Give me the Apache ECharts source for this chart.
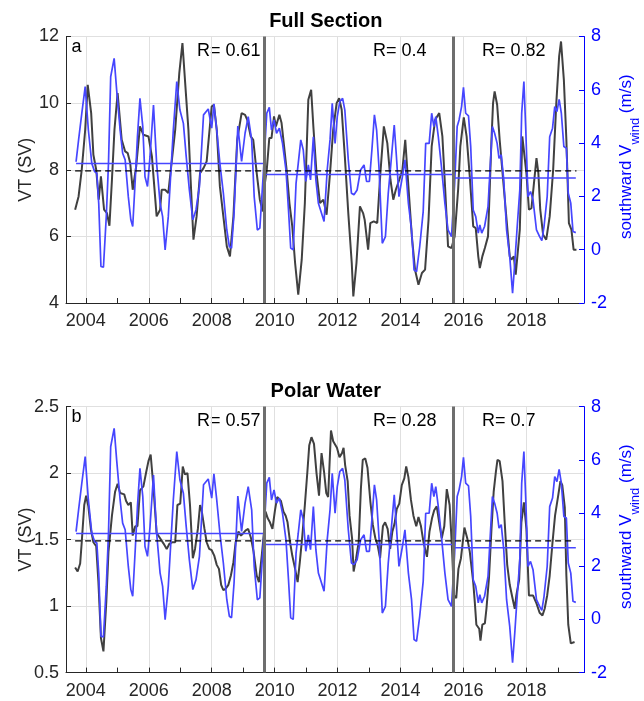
<!DOCTYPE html>
<html>
<head>
<meta charset="utf-8">
<script src="https://cdn.jsdelivr.net/npm/echarts@6/dist/echarts.min.js"></script>
<style>
  html, body { margin: 0; padding: 0; background: #fff; }
  #chart { width: 644px; height: 701px; }
</style>
</head>
<body>
<div id="chart"></div>
<script>
// time axis
const xMin = 2003.37, xMax = 2019.83;
const yearTicks = [2004, 2005, 2006, 2007, 2008, 2009, 2010, 2011, 2012, 2013, 2014, 2015, 2016, 2017, 2018, 2019];
const yearLabels = [2004, 2006, 2008, 2010, 2012, 2014, 2016, 2018];

// period boundaries (vertical lines) and correlation per period
const breakYears = [2009.66, 2015.67];
const rFull = ["0.61", "0.4", "0.82"];
const rPolar = ["0.57", "0.28", "0.7"];

// means: dashed black = VT mean, blue = wind mean per period
const vtMeans = [7.965, 1.49];
const windMeans = [3.23, 2.82, 2.69];

// Full Section VT (Sv)
const vtFull = [
  [2003.66,6.80],[2003.77,7.20],[2003.87,8.00],[2003.98,9.20],[2004.06,10.55],[2004.17,9.70],[2004.24,8.45],[2004.33,8.00],
  [2004.41,7.10],[2004.48,7.80],[2004.58,6.80],[2004.67,6.70],[2004.75,6.32],[2004.83,7.70],[2004.91,9.20],[2005.01,10.30],
  [2005.14,8.90],[2005.25,8.55],[2005.33,8.50],[2005.41,8.20],[2005.49,7.40],[2005.60,8.10],[2005.72,9.30],[2005.83,9.05],
  [2005.99,9.00],[2006.10,8.40],[2006.25,6.60],[2006.36,6.80],[2006.41,7.40],[2006.52,7.40],[2006.62,7.30],[2006.84,9.20],
  [2006.97,10.90],[2007.07,11.80],[2007.15,10.70],[2007.26,9.20],[2007.33,7.70],[2007.42,5.90],[2007.52,6.60],[2007.63,7.90],
  [2007.74,8.05],[2007.84,8.25],[2008.00,9.90],[2008.07,9.95],[2008.16,9.20],[2008.26,7.50],[2008.37,6.60],[2008.48,5.70],
  [2008.58,5.40],[2008.69,6.60],[2008.81,8.90],[2008.95,9.70],[2009.06,9.65],[2009.13,9.50],[2009.24,9.00],[2009.32,8.90],
  [2009.43,7.90],[2009.53,7.10],[2009.62,6.75],[2009.66,7.40],[2009.75,8.00],[2009.83,8.95],[2009.90,8.95],[2009.98,9.60],
  [2010.04,9.30],[2010.15,9.65],[2010.22,9.40],[2010.30,8.70],[2010.38,8.00],[2010.47,7.00],[2010.56,6.30],[2010.65,5.20],
  [2010.75,4.25],[2010.86,5.30],[2010.96,7.00],[2011.07,10.10],[2011.16,10.40],[2011.23,9.30],[2011.33,7.90],[2011.44,7.00],
  [2011.55,7.10],[2011.65,6.65],[2011.76,7.90],[2011.86,9.20],[2011.97,10.00],[2012.05,10.15],[2012.13,9.80],[2012.23,8.40],
  [2012.34,6.70],[2012.45,5.20],[2012.50,4.20],[2012.60,5.20],[2012.71,6.90],[2012.81,6.70],[2012.86,6.50],[2012.97,5.60],
  [2013.04,6.40],[2013.15,6.45],[2013.26,6.40],[2013.36,7.90],[2013.47,9.30],[2013.58,8.80],[2013.68,7.70],[2013.77,7.10],
  [2013.85,7.40],[2013.96,7.70],[2014.06,8.00],[2014.15,8.90],[2014.25,7.50],[2014.36,6.00],[2014.46,5.00],[2014.57,4.55],
  [2014.68,4.90],[2014.78,5.00],[2014.89,6.50],[2014.99,8.70],[2015.10,9.50],[2015.23,9.70],[2015.33,9.00],[2015.42,7.40],
  [2015.51,5.70],[2015.62,5.65],[2015.72,6.00],[2015.83,7.40],[2015.90,8.70],[2016.01,9.57],[2016.10,9.00],[2016.20,7.80],
  [2016.31,6.30],[2016.39,6.25],[2016.47,5.40],[2016.52,5.05],[2016.60,5.40],[2016.68,5.65],[2016.78,6.00],[2016.89,8.90],
  [2016.94,10.00],[2016.99,10.35],[2017.07,9.95],[2017.15,8.90],[2017.26,7.70],[2017.37,6.50],[2017.47,5.40],[2017.52,5.30],
  [2017.60,5.40],[2017.66,4.85],[2017.79,6.20],[2017.87,9.00],[2017.93,9.05],[2018.00,7.90],[2018.08,6.80],[2018.16,6.85],
  [2018.23,7.50],[2018.32,8.35],[2018.38,7.90],[2018.44,6.80],[2018.53,6.05],[2018.63,5.90],[2018.74,6.60],[2018.85,8.00],
  [2018.95,10.00],[2019.04,11.40],[2019.10,11.85],[2019.19,10.70],[2019.27,8.90],[2019.35,6.40],[2019.43,6.20],[2019.50,5.60],
  [2019.59,5.60]
];

// Polar Water VT (Sv)
const vtPolar = [
  [2003.66,1.29],[2003.74,1.26],[2003.82,1.32],[2003.87,1.48],[2003.95,1.76],[2004.01,1.83],[2004.08,1.75],[2004.16,1.58],
  [2004.24,1.48],[2004.33,1.45],[2004.40,1.18],[2004.48,0.76],[2004.56,0.66],[2004.65,1.03],[2004.72,1.41],[2004.83,1.68],
  [2004.93,1.86],[2005.01,1.92],[2005.09,1.85],[2005.14,1.84],[2005.22,1.84],[2005.28,1.79],[2005.35,1.76],[2005.43,1.78],
  [2005.49,1.53],[2005.57,1.60],[2005.64,1.60],[2005.72,1.87],[2005.83,1.90],[2005.92,2.01],[2005.99,2.09],[2006.06,2.14],
  [2006.15,1.89],[2006.25,1.55],[2006.36,1.51],[2006.47,1.47],[2006.57,1.43],[2006.66,1.47],[2006.74,1.48],[2006.84,1.48],
  [2006.91,1.76],[2007.00,1.77],[2007.08,2.05],[2007.15,1.99],[2007.23,2.00],[2007.31,1.76],[2007.40,1.36],[2007.47,1.43],
  [2007.56,1.58],[2007.63,1.76],[2007.68,1.72],[2007.77,1.58],[2007.84,1.48],[2007.92,1.43],[2008.00,1.42],[2008.08,1.38],
  [2008.16,1.31],[2008.23,1.28],[2008.30,1.16],[2008.37,1.12],[2008.44,1.13],[2008.53,1.16],[2008.61,1.23],[2008.69,1.33],
  [2008.76,1.48],[2008.85,1.56],[2008.93,1.53],[2009.01,1.55],[2009.08,1.57],[2009.16,1.58],[2009.25,1.51],[2009.33,1.41],
  [2009.43,1.23],[2009.50,1.18],[2009.59,1.38],[2009.66,1.55],[2009.71,1.71],[2009.78,1.66],[2009.85,1.63],[2009.93,1.58],
  [2010.01,1.72],[2010.08,1.82],[2010.14,1.82],[2010.20,1.79],[2010.28,1.71],[2010.35,1.68],[2010.41,1.63],[2010.49,1.48],
  [2010.56,1.38],[2010.65,1.28],[2010.73,1.18],[2010.80,1.33],[2010.88,1.53],[2010.96,1.76],[2011.04,2.01],[2011.10,2.21],
  [2011.17,2.27],[2011.25,2.22],[2011.33,2.00],[2011.41,1.83],[2011.49,2.15],[2011.57,2.01],[2011.64,1.85],[2011.70,1.82],
  [2011.79,2.32],[2011.86,2.24],[2011.98,2.19],[2012.06,2.12],[2012.14,2.15],[2012.19,2.19],[2012.24,2.06],[2012.32,1.94],
  [2012.38,1.68],[2012.46,1.51],[2012.51,1.26],[2012.59,1.36],[2012.67,1.48],[2012.74,1.88],[2012.80,2.10],[2012.88,2.11],
  [2012.95,2.04],[2013.04,1.79],[2013.12,1.61],[2013.20,1.51],[2013.27,1.46],[2013.35,1.36],[2013.44,1.60],[2013.51,1.63],
  [2013.59,1.58],[2013.67,1.43],[2013.74,1.56],[2013.81,1.62],[2013.88,1.73],[2013.96,1.77],[2014.04,1.91],[2014.12,1.96],
  [2014.18,2.05],[2014.25,1.97],[2014.33,1.80],[2014.41,1.68],[2014.50,1.60],[2014.57,1.67],[2014.65,1.60],[2014.73,1.48],
  [2014.84,1.37],[2014.92,1.56],[2015.00,1.66],[2015.07,1.72],[2015.15,1.75],[2015.24,1.61],[2015.31,1.51],[2015.39,1.60],
  [2015.47,1.88],[2015.56,1.76],[2015.63,1.46],[2015.70,1.08],[2015.77,1.06],[2015.84,1.28],[2015.92,1.36],[2016.03,1.59],
  [2016.12,1.51],[2016.20,1.41],[2016.31,1.18],[2016.36,1.03],[2016.41,0.86],[2016.50,0.83],[2016.54,0.74],[2016.60,0.86],
  [2016.68,0.87],[2016.73,0.98],[2016.81,1.21],[2016.89,1.58],[2016.96,1.86],[2017.03,2.01],[2017.08,2.10],[2017.15,2.09],
  [2017.24,1.94],[2017.31,1.63],[2017.39,1.31],[2017.47,1.16],[2017.54,1.08],[2017.63,0.98],[2017.68,1.08],[2017.77,1.20],
  [2017.84,1.63],[2017.92,1.78],[2018.00,1.58],[2018.08,1.08],[2018.21,1.08],[2018.32,1.02],[2018.42,0.95],[2018.51,0.93],
  [2018.58,0.98],[2018.66,1.08],[2018.74,1.23],[2018.83,1.48],[2018.91,1.68],[2019.01,1.83],[2019.08,1.94],[2019.14,1.91],
  [2019.22,1.74],[2019.27,1.23],[2019.33,0.86],[2019.41,0.72],[2019.53,0.73]
];

// southward wind (m/s), same in both panels
const windSouth = [
  [2003.69,3.30],[2003.77,4.12],[2003.87,5.10],[2003.98,6.12],[2004.08,4.50],[2004.19,3.24],[2004.28,2.93],[2004.35,2.87],
  [2004.41,1.74],[2004.48,-0.63],[2004.56,-0.66],[2004.65,1.24],[2004.72,3.24],[2004.79,6.49],[2004.90,7.18],[2004.98,5.99],
  [2005.09,4.49],[2005.17,3.62],[2005.25,3.37],[2005.35,1.99],[2005.43,1.12],[2005.49,0.87],[2005.57,2.62],[2005.64,4.24],
  [2005.72,5.68],[2005.81,4.62],[2005.88,2.74],[2005.96,2.37],[2006.04,3.49],[2006.15,5.43],[2006.25,3.24],[2006.36,1.74],
  [2006.44,1.24],[2006.52,-0.01],[2006.62,1.24],[2006.78,4.49],[2006.89,6.31],[2006.99,5.24],[2007.10,4.74],[2007.19,3.49],
  [2007.29,2.24],[2007.40,1.12],[2007.50,1.49],[2007.61,2.37],[2007.74,5.06],[2007.89,5.28],[2008.00,4.56],[2008.07,5.47],
  [2008.16,4.49],[2008.26,3.24],[2008.37,2.12],[2008.48,0.74],[2008.56,0.12],[2008.63,0.06],[2008.71,1.37],[2008.83,4.64],
  [2008.95,3.31],[2009.06,4.37],[2009.16,4.99],[2009.27,4.12],[2009.35,1.99],[2009.45,0.74],[2009.53,0.81],[2009.64,2.87],
  [2009.75,5.12],[2009.83,5.34],[2009.90,4.49],[2009.98,4.87],[2010.06,4.37],[2010.15,4.56],[2010.25,3.99],[2010.36,2.99],
  [2010.44,1.49],[2010.51,0.06],[2010.59,0.00],[2010.68,2.49],[2010.75,3.24],[2010.83,4.12],[2010.91,3.74],[2010.99,2.56],
  [2011.07,3.18],[2011.14,2.62],[2011.23,4.24],[2011.31,2.62],[2011.39,1.74],[2011.49,1.37],[2011.57,1.06],[2011.67,2.99],
  [2011.76,4.12],[2011.83,5.49],[2011.92,3.99],[2011.99,4.99],[2012.07,5.56],[2012.16,5.68],[2012.23,5.24],[2012.34,3.37],
  [2012.44,2.12],[2012.52,2.06],[2012.62,2.24],[2012.73,2.99],[2012.84,3.18],[2012.92,2.56],[2013.01,2.56],[2013.09,3.74],
  [2013.17,5.06],[2013.24,4.49],[2013.32,2.99],[2013.42,0.24],[2013.52,0.49],[2013.61,2.12],[2013.69,3.18],[2013.80,4.68],
  [2013.87,3.49],[2013.95,1.99],[2014.06,2.74],[2014.14,3.37],[2014.25,1.74],[2014.35,0.74],[2014.43,-0.76],[2014.51,-0.82],
  [2014.61,0.12],[2014.72,1.43],[2014.80,3.99],[2014.91,3.99],[2014.99,5.12],[2015.06,4.62],[2015.12,4.99],[2015.20,4.24],
  [2015.30,3.12],[2015.41,1.74],[2015.51,0.74],[2015.62,0.49],[2015.72,2.49],[2015.80,4.62],[2015.86,4.87],[2015.94,5.37],
  [2016.00,6.09],[2016.07,5.12],[2016.16,5.02],[2016.23,3.87],[2016.31,1.49],[2016.39,1.24],[2016.47,0.62],[2016.52,0.93],
  [2016.58,0.62],[2016.67,0.87],[2016.78,1.62],[2016.92,4.62],[2016.99,4.37],[2017.07,3.99],[2017.13,3.43],[2017.20,3.56],
  [2017.28,2.62],[2017.37,0.74],[2017.47,-0.26],[2017.56,-1.63],[2017.63,-0.51],[2017.70,0.74],[2017.79,2.24],[2017.85,5.12],
  [2017.92,6.31],[2017.98,4.49],[2018.05,1.99],[2018.13,2.18],[2018.21,1.87],[2018.32,0.74],[2018.42,0.49],[2018.49,0.34],
  [2018.56,0.87],[2018.66,1.99],[2018.74,4.24],[2018.83,4.56],[2018.90,5.37],[2018.97,5.18],[2019.04,5.64],[2019.11,5.12],
  [2019.19,3.87],[2019.27,3.81],[2019.33,2.12],[2019.41,1.74],[2019.48,0.68],[2019.57,0.64]
];

const FONT = '"Liberation Sans", Arial, Helvetica, sans-serif';
const INK = "#262626";
const AXIS_BLUE = "#0000ff";
const WIND_BLUE = "#4646ff";
const VT_GRAY = "#404040";
const GRID_GRAY = "#e0e0e0";

const panels = [
  { title: "Full Section", letter: "a", vt: vtFull, yMin: 4, yMax: 12, yStep: 2, r: rFull, top: 36.5, height: 266.5 },
  { title: "Polar Water", letter: "b", vt: vtPolar, yMin: 0.5, yMax: 2.5, yStep: 0.5, r: rPolar, top: 406.6, height: 266 },
];
const rLeft = [197, 373, 482];

const grid = [], xAxis = [], yAxis = [], series = [], graphic = [];

panels.forEach((p, g) => {
  grid.push({ left: 66, right: 60, top: p.top, height: p.height, outerBoundsMode: "none", containLabel: false });

  // visible time axis: ticks every year, labels every 2 years
  xAxis.push({
    type: "value", gridIndex: g, min: xMin, max: xMax, position: "bottom",
    axisLine: { show: true, onZero: false, lineStyle: { color: INK, width: 1 } },
    axisTick: { show: true, inside: true, length: 5, customValues: yearTicks, lineStyle: { color: INK } },
    axisLabel: { customValues: yearLabels, color: INK, fontSize: 18, fontFamily: FONT, margin: 9, formatter: v => String(v) },
    splitLine: { show: false },
  });
  // hidden axis only for the vertical grid lines at even years
  xAxis.push({
    type: "value", gridIndex: g, min: xMin, max: xMax, position: "bottom",
    axisLine: { show: false },
    axisTick: { show: false, customValues: yearLabels },
    axisLabel: { show: false },
    splitLine: { show: true, lineStyle: { color: GRID_GRAY, width: 1 } },
  });

  yAxis.push({
    type: "value", gridIndex: g, position: "left", min: p.yMin, max: p.yMax, interval: p.yStep,
    name: "VT (SV)", nameLocation: "middle", nameRotate: 90, nameGap: 31, nameMoveOverlap: false,
    nameTextStyle: { color: INK, fontSize: 18, fontFamily: FONT },
    axisLine: { show: true, onZero: false, lineStyle: { color: INK, width: 1 } },
    axisTick: { show: true, inside: true, length: 5, lineStyle: { color: INK } },
    axisLabel: { color: INK, fontSize: 18, fontFamily: FONT, margin: 7 },
    splitLine: { show: true, lineStyle: { color: GRID_GRAY, width: 1 } },
  });
  yAxis.push({
    type: "value", gridIndex: g, position: "right", min: -2, max: 8, interval: 2,
    name: "{a|southward V}{s|wind}{a| (m/s)}", nameLocation: "middle", nameRotate: 90, nameGap: 34, nameMoveOverlap: false,
    nameTextStyle: {
      color: AXIS_BLUE, fontFamily: FONT, padding: [0, 0, 0, 26],
      rich: {
        a: { fontSize: 17, color: AXIS_BLUE, fontFamily: FONT, lineHeight: 18, verticalAlign: "top" },
        s: { fontSize: 13, color: AXIS_BLUE, fontFamily: FONT, lineHeight: 24, verticalAlign: "bottom" },
      },
    },
    axisLine: { show: true, onZero: false, lineStyle: { color: AXIS_BLUE, width: 1 } },
    axisTick: { show: true, inside: true, length: 5, lineStyle: { color: AXIS_BLUE } },
    axisLabel: { color: AXIS_BLUE, fontSize: 18, fontFamily: FONT, margin: 7 },
    splitLine: { show: false },
  });

  const xi = g * 2, yl = g * 2, yr = g * 2 + 1;

  series.push({
    type: "line", xAxisIndex: xi, yAxisIndex: yl, data: p.vt, showSymbol: false,
    lineStyle: { color: VT_GRAY, width: 2 }, z: 2, animation: false, silent: true,
  });
  series.push({
    type: "line", xAxisIndex: xi, yAxisIndex: yr, data: windSouth, showSymbol: false,
    lineStyle: { color: WIND_BLUE, width: 1.7 }, z: 3, animation: false, silent: true,
    markLine: {
      silent: true, symbol: "none", label: { show: false }, z: 6, animation: false,
      lineStyle: { color: "#6e6e6e", width: 3, type: "solid" },
      data: breakYears.map(b => ({ xAxis: b })),
    },
  });

  // dashed VT mean
  const vtFirst = p.vt[0][0], vtLast = p.vt[p.vt.length - 1][0];
  series.push({
    type: "line", xAxisIndex: xi, yAxisIndex: yl, showSymbol: false, animation: false, silent: true, z: 4,
    data: [[vtFirst, vtMeans[g]], [vtLast, vtMeans[g]]],
    lineStyle: { color: "#000", width: 1.2, type: [6, 4] },
  });

  // blue wind mean per period
  const edges = [windSouth[0][0], ...breakYears, windSouth[windSouth.length - 1][0]];
  windMeans.forEach((m, i) => {
    series.push({
      type: "line", xAxisIndex: xi, yAxisIndex: yr, showSymbol: false, animation: false, silent: true, z: 4,
      data: [[edges[i], m], [edges[i + 1], m]],
      lineStyle: { color: WIND_BLUE, width: 1.5 },
    });
  });

  const dy = p.top - 36.5;
  graphic.push({
    type: "text", x: 325.8, y: 21.2 + dy,
    style: { text: p.title, fill: "#000", font: "bold 20px " + FONT, align: "center", verticalAlign: "middle", textAlign: "center", textVerticalAlign: "middle" },
  });
  graphic.push({
    type: "text", x: 71.5, y: 47.2 + dy,
    style: { text: p.letter, fill: "#000", font: "18px " + FONT, align: "left", verticalAlign: "middle", textAlign: "left", textVerticalAlign: "middle" },
  });
  p.r.forEach((r, i) => {
    graphic.push({
      type: "text", x: rLeft[i], y: 51.1 + dy,
      style: { text: "R= " + r, fill: "#000", font: "18px " + FONT, align: "left", verticalAlign: "middle", textAlign: "left", textVerticalAlign: "middle" },
    });
  });
});

const chart = echarts.init(document.getElementById("chart"), null, { renderer: "canvas" });
chart.setOption({ backgroundColor: "#fff", animation: false, grid, xAxis, yAxis, series, graphic });
</script>
</body>
</html>
